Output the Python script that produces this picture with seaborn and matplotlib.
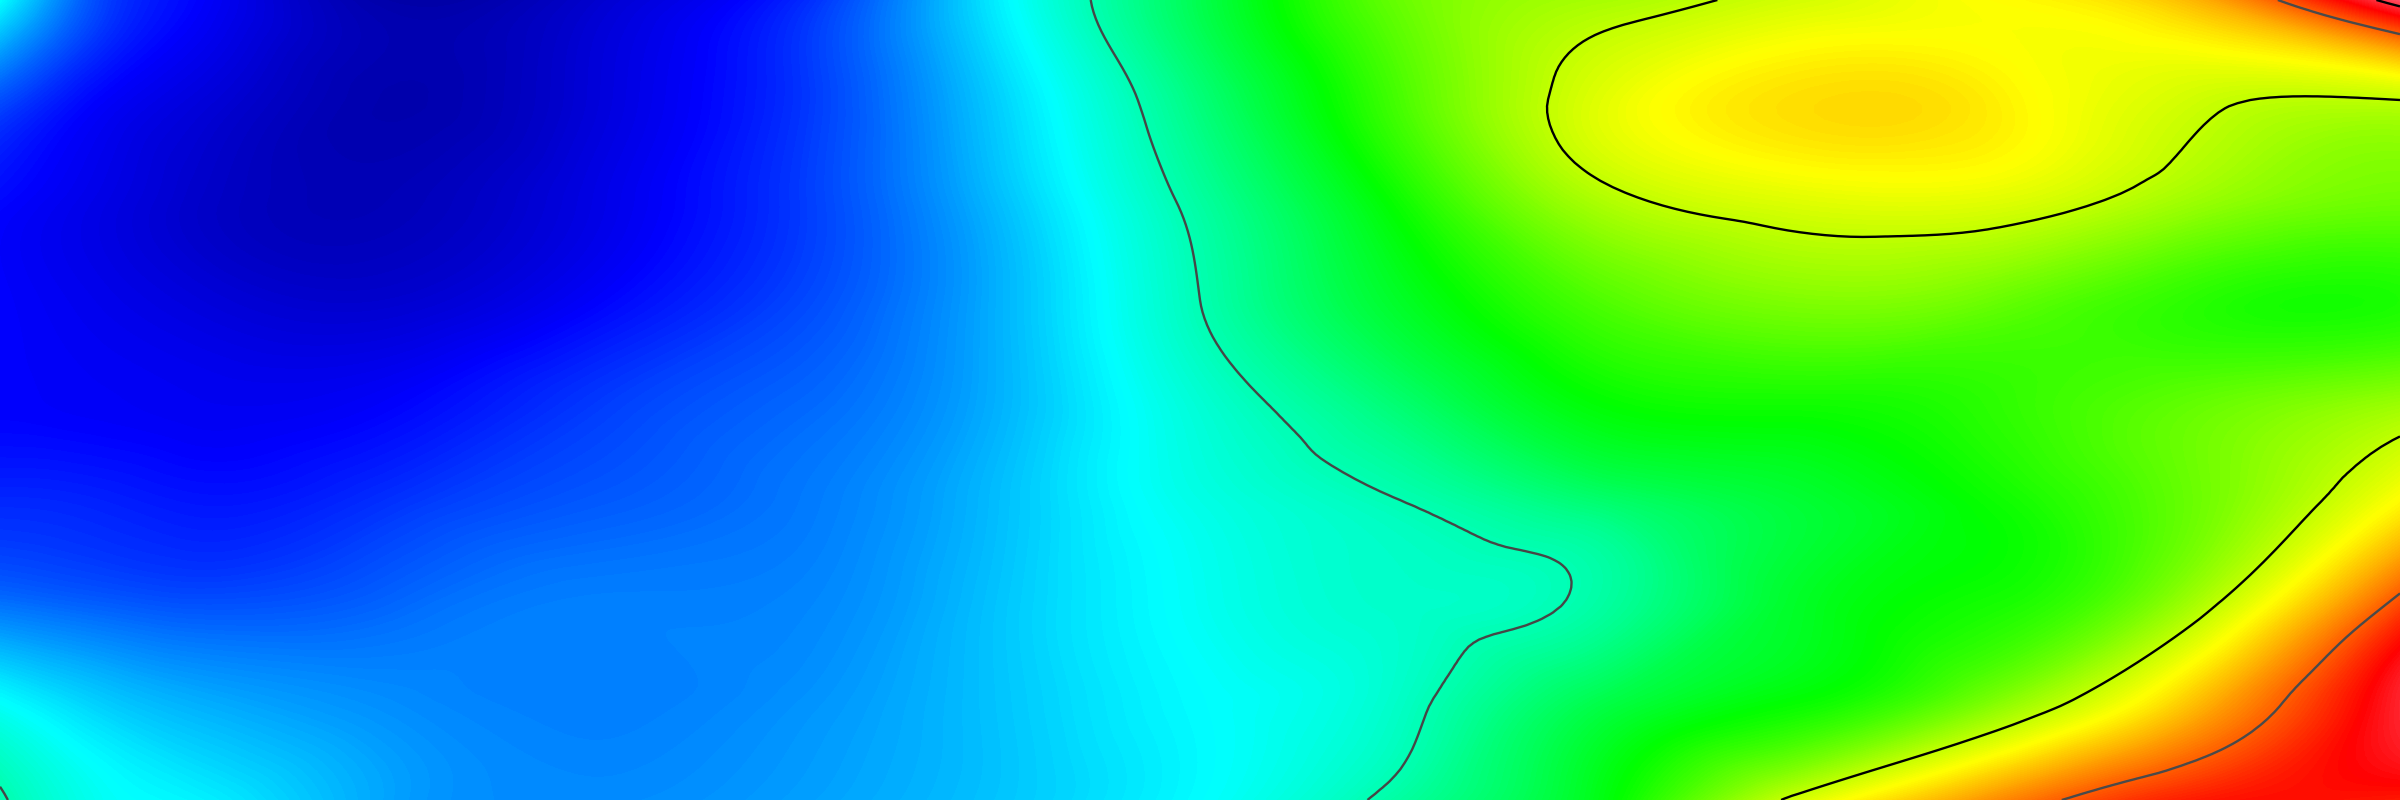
import numpy as np
import matplotlib.pyplot as plt
import matplotlib.tri as mtri
import seaborn as sns

# sample positions of the field (pixels of the 2400x800 picture)
x_coords = [0, 100, 200, 400, 600, 800, 1000, 1200, 1400, 1600, 1800, 2000,
            2200, 2400]
y_coords = [0, 100, 200, 300, 400, 500, 600, 700, 800]

# field values, one list per row (top to bottom)
row_0 = [3.0, 1.55, 1.0, 0.25, 0.6, 1.3, 2.9, 4.4, 5.8, 6.3, 6.65, 7.0, 7.6, 9.7]
row_1 = [1.6, 1.0, 0.7, 0.3, 0.7, 1.4, 2.65, 4.05, 5.55, 6.75, 7.25, 7.1, 6.6, 6.5]
row_2 = [1.05, 0.8, 0.55, 0.4, 0.8, 1.45, 2.5, 3.75, 5.1, 6.35, 6.75, 6.75, 6.2, 5.85]
row_3 = [1.0, 0.85, 0.7, 0.6, 1.0, 1.55, 2.4, 3.6, 4.7, 5.6, 6.0, 5.8, 5.3, 5.2]
row_4 = [1.0, 0.95, 0.9, 1.0, 1.45, 1.8, 2.4, 3.35, 4.15, 5.0, 5.15, 5.35, 5.75, 6.15]
row_5 = [1.3, 1.25, 1.15, 1.4, 1.7, 1.95, 2.5, 3.2, 3.6, 4.15, 4.6, 5.1, 5.85, 7.0]
row_6 = [1.85, 1.7, 1.6, 1.8, 2.0, 2.05, 2.55, 3.1, 3.42, 3.72, 4.7, 5.15, 6.3, 8.35]
row_7 = [3.0, 2.6, 2.35, 2.1, 2.0, 2.15, 2.55, 3.0, 3.45, 4.4, 5.0, 6.0, 7.5, 9.3]
row_8 = [3.65, 3.1, 2.9, 2.25, 2.1, 2.25, 2.55, 3.0, 3.75, 4.85, 6.65, 7.9, 8.8, 8.8]

contour_levels = [3.6, 6.5, 8.25, 9.4]
line_colors = ["#464646", "black", "#4a4a4a", "black"]

palette = ["#00008c", "#0000ff", "#0080ff", "#00ffff", "#00ff80", "#00ff00",
           "#80ff00", "#ffff00", "#ff8000", "#ff0000", "#ff6e8c"]

field = np.array([row_0, row_1, row_2, row_3, row_4, row_5, row_6, row_7, row_8])

sns.set_style("white")
cmap = sns.blend_palette(palette, as_cmap=True)

# split every grid cell into two triangles, diagonals in a checkerboard
nx, ny = len(x_coords), len(y_coords)
cells = []
for j in range(ny - 1):
    for i in range(nx - 1):
        a = j * nx + i
        b, c, d = a + 1, a + nx, a + nx + 1
        if (i + j) % 2 == 0:
            cells += [[a, b, d], [a, d, c]]
        else:
            cells += [[a, b, c], [b, d, c]]

xx, yy = np.meshgrid(x_coords, y_coords)
tri = mtri.Triangulation(xx.ravel(), yy.ravel(), triangles=cells)
smooth = mtri.CubicTriInterpolator(tri, field.ravel(), kind="min_E")
refiner = mtri.UniformTriRefiner(tri)
tri_fine, z_fine = refiner.refine_field(field.ravel(), triinterpolator=smooth,
                                        subdiv=4)

fig = plt.figure(figsize=(24, 8), dpi=100)
ax = fig.add_axes([0, 0, 1, 1])
ax.tricontourf(tri_fine, z_fine, levels=np.linspace(0, 10, 1001), cmap=cmap,
               extend="both", antialiased=False)
ax.tricontour(tri_fine, z_fine, levels=contour_levels, colors=line_colors,
              linewidths=1.7)
ax.set_xlim(0, 2400)
ax.set_ylim(800, 0)
ax.axis("off")

fig.savefig("out.png", dpi=100)
